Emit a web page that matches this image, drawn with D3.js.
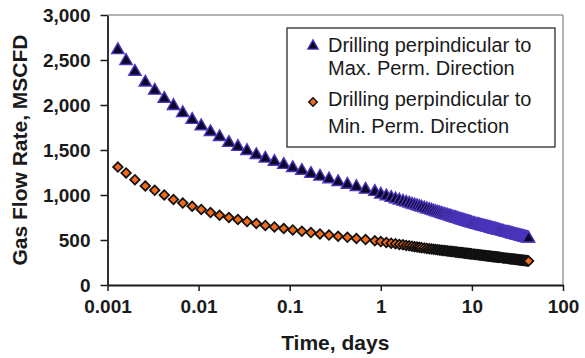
<!DOCTYPE html>
<html lang="en">
<head>
<meta charset="UTF-8">
<title>Gas Flow Rate vs Time</title>
<script src="https://d3js.org/d3.v7.min.js"></script>
<style>
    body { margin: 0; background: #fff; }
    svg { display: block; font-family: Arial, "Liberation Sans", sans-serif; }
    .tick text { font-size: 19px; font-weight: bold; fill: #1a1a1a; }
    .axis-title { font-size: 21px; font-weight: bold; fill: #1a1a1a; }
    .legend-text { font-size: 20px; fill: #1a1a1a; }
</style>
</head>
<body>
<svg width="585" height="358"></svg>
<script>
// time steps, days (shared by both runs)
const days = [
    0.0013, 0.0016, 0.002, 0.0026, 0.0033, 0.0042, 0.0053, 0.0067, 0.0085, 0.0107,
    0.0135, 0.017, 0.0215, 0.027, 0.034, 0.043, 0.054, 0.068, 0.086, 0.108,
    0.136, 0.171, 0.215, 0.27, 0.34, 0.43, 0.54, 0.68, 0.86,
    1.0, 1.15, 1.3, 1.45, 1.6, 1.75, 1.9, 2.05, 2.2, 2.35, 2.5, 2.65, 2.8,
    3.0, 3.2, 3.4, 3.6, 3.8, 4.0, 4.2, 4.4, 4.6, 4.8,
    5.0, 5.2, 5.4, 5.6, 5.8, 6.0, 6.2, 6.4, 6.6, 6.8,
    7.0, 7.2, 7.4, 7.6, 7.8, 8.0, 8.2, 8.4, 8.6, 8.8,
    9.0, 9.2, 9.4, 9.6, 9.8,
    10, 10.35, 10.7, 11.05, 11.4, 11.75, 12.1, 12.45, 12.8, 13.15,
    13.5, 13.85, 14.2, 14.55, 14.9, 15.25, 15.6, 15.95, 16.3, 16.65,
    17, 17.35, 17.7, 18.05, 18.4, 18.75, 19.1, 19.45, 19.8,
    20.2, 20.9, 21.6, 22.3, 23.0, 23.7, 24.4, 25.1, 25.8, 26.5,
    27.2, 27.9, 28.6, 29.3, 30.0, 30.7, 31.4, 32.1, 32.8, 33.5,
    34.2, 34.9, 35.6, 36.3, 37.0, 37.7, 38.4, 39.1, 39.8, 40.5,
    41.2, 41.9
];

// MSCFD, drilling perpendicular to max. perm. direction
const maxPerm = [
    2610, 2490, 2370, 2250, 2160, 2070, 1990, 1910, 1835, 1765,
    1700, 1645, 1580, 1535, 1490, 1445, 1405, 1370, 1335, 1300,
    1270, 1235, 1205, 1175, 1145, 1115, 1090, 1060, 1035,
    1005, 986, 969, 953, 940, 927, 916, 905, 895, 886, 878, 870, 862,
    852, 843, 835, 827, 819, 812, 806, 799, 793, 787,
    781, 776, 771, 766, 761, 756, 751, 747, 743, 739,
    735, 731, 727, 723, 720, 716, 713, 709, 706, 703,
    700, 697, 694, 691, 688,
    685, 681, 677, 673, 670, 666, 663, 659, 656, 653,
    650, 647, 644, 641, 638, 635, 633, 630, 628, 625,
    623, 620, 618, 616, 613, 611, 609, 607, 605,
    603, 599, 595, 591, 587, 584, 580, 577, 574, 571,
    568, 565, 562, 559, 556, 553, 551, 548, 546, 543,
    541, 538, 536, 534, 532, 529, 527, 525, 523, 521,
    519, 517
];

// MSCFD, drilling perpendicular to min. perm. direction
const minPerm = [
    1310, 1245, 1170, 1100, 1052, 1000, 950, 910, 875, 840,
    805, 775, 750, 728, 705, 683, 662, 645, 628, 612,
    597, 582, 568, 555, 542, 530, 517, 505, 492,
    482, 473, 465, 458, 451, 446, 440, 435, 431, 426, 422, 419, 415,
    410, 406, 403, 400, 397, 394, 392, 389, 387, 384,
    382, 380, 378, 376, 374, 372, 371, 369, 367, 366,
    364, 362, 361, 360, 358, 357, 355, 354, 353, 352,
    350, 349, 348, 347, 346,
    345, 343, 341, 339, 338, 336, 334, 333, 331, 330,
    328, 327, 326, 324, 323, 322, 321, 319, 318, 317,
    316, 315, 314, 313, 312, 311, 310, 309, 308,
    307, 305, 303, 301, 299, 298, 296, 295, 293, 292,
    290, 289, 288, 286, 285, 284, 282, 281, 280, 279,
    278, 277, 276, 275, 274, 273, 272, 271, 270, 269,
    268, 267
];

const xTicks = [0.001, 0.01, 0.1, 1, 10, 100];
const xTickLabels = ["0.001", "0.01", "0.1", "1", "10", "100"];
const yTicks = [0, 500, 1000, 1500, 2000, 2500, 3000];

const legendLines = [
    ["Drilling perpindicular to", "Max. Perm. Direction"],
    ["Drilling perpindicular to", "Min. Perm. Direction"]
];

const svg = d3.select("svg");
const plotLeft = 107.5, plotRight = 563, plotTop = 15, plotBottom = 285;

const x = d3.scaleLog().domain([0.001, 100]).range([plotLeft, plotRight]);
const y = d3.scaleLinear().domain([0, 3000]).range([plotBottom, plotTop]);

// plot frame (grey top and right)
svg.append("line")
    .attr("x1", plotLeft).attr("x2", plotRight).attr("y1", plotTop).attr("y2", plotTop)
    .attr("stroke", "#9a9a9a").attr("stroke-width", 1.5);
svg.append("line")
    .attr("x1", plotRight).attr("x2", plotRight).attr("y1", plotTop).attr("y2", plotBottom)
    .attr("stroke", "#9a9a9a").attr("stroke-width", 1.5);

// axes
const yAxis = svg.append("g")
    .attr("transform", `translate(${plotLeft},0)`)
    .call(d3.axisLeft(y).tickValues(yTicks).tickFormat(d3.format(",")).tickSize(7).tickPadding(10).tickSizeOuter(0));

const xAxis = svg.append("g")
    .attr("transform", `translate(0,${plotBottom})`)
    .call(d3.axisBottom(x).tickValues(xTicks).tickFormat((d, i) => xTickLabels[i]).tickSize(6).tickPadding(9).tickSizeOuter(0));

[yAxis, xAxis].forEach(a => {
    a.attr("font-family", null).attr("font-size", null);
    a.select(".domain").attr("stroke", "#1a1a1a").attr("stroke-width", 1.8);
    a.selectAll(".tick line").attr("stroke", "#1a1a1a").attr("stroke-width", 1.5);
});
yAxis.selectAll(".tick text").attr("dy", "0.36em");

// axis titles
svg.append("text")
    .attr("class", "axis-title")
    .attr("x", (plotLeft + plotRight) / 2)
    .attr("y", 350)
    .attr("text-anchor", "middle")
    .text("Time, days");

svg.append("text")
    .attr("class", "axis-title")
    .attr("transform", `translate(27,${(plotTop + plotBottom) / 2}) rotate(-90)`)
    .attr("text-anchor", "middle")
    .text("Gas Flow Rate, MSCFD");

// series
const tri = d3.symbol().type(d3.symbolTriangle).size(66);
const dia = d3.symbol().type(d3.symbolSquare).size(46);

svg.append("g")
    .selectAll("path")
    .data(days)
    .enter().append("path")
    .attr("d", tri)
    .attr("transform", (d, i) => `translate(${x(d)},${y(maxPerm[i])})`)
    .attr("fill", "#0c0728")
    .attr("stroke", "#4a36bc")
    .attr("stroke-width", 1.4);

svg.append("g")
    .selectAll("path")
    .data(days)
    .enter().append("path")
    .attr("d", dia)
    .attr("transform", (d, i) => `translate(${x(d)},${y(minPerm[i])}) rotate(45)`)
    .attr("fill", "#f26a1b")
    .attr("stroke", "#111")
    .attr("stroke-width", 1.7);

// legend
const legend = svg.append("g");
legend.append("rect")
    .attr("x", 287).attr("y", 28).attr("width", 268).attr("height", 119)
    .attr("fill", "#fff").attr("stroke", "#1a1a1a").attr("stroke-width", 1.2);

legend.append("path")
    .attr("d", d3.symbol().type(d3.symbolTriangle).size(48))
    .attr("transform", "translate(313,46)")
    .attr("fill", "#0c0728").attr("stroke", "#4a36bc").attr("stroke-width", 1.3);
legend.append("path")
    .attr("d", d3.symbol().type(d3.symbolSquare).size(36))
    .attr("transform", "translate(313,102) rotate(45)")
    .attr("fill", "#f26a1b").attr("stroke", "#111").attr("stroke-width", 1.5);

const baselines = [[52, 75], [106, 133]];
legendLines.forEach((lines, k) => {
    lines.forEach((t, j) => {
        legend.append("text")
            .attr("class", "legend-text")
            .attr("x", 328)
            .attr("y", baselines[k][j])
            .text(t);
    });
});
</script>
</body>
</html>
